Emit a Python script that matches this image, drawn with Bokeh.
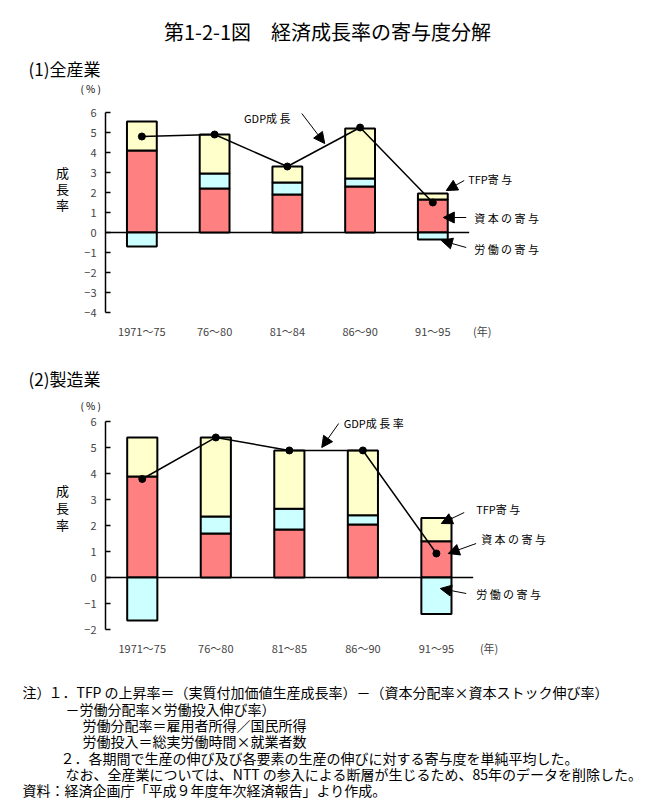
from bokeh.plotting import figure
from bokeh.models import Range1d, FixedTicker, Label, Arrow, NormalHead, Plot
from bokeh.layouts import column, row
from bokeh.embed import file_html
from bokeh.resources import INLINE
from bokeh.core.properties import value

FONT = "Noto Sans CJK JP"

# ---------------- data ----------------
periods_all = ["1971～75", "76～80", "81～84", "86～90", "91～95"]
capital_all = [4.1, 2.2, 1.9, 2.3, 1.65]
labor_all = [-0.7, 0.75, 0.6, 0.4, -0.35]
tfp_all = [1.45, 1.95, 0.8, 2.5, 0.3]
gdp_all = [4.8, 4.9, 3.3, 5.25, 1.5]

periods_mfg = ["1971～75", "76～80", "81～85", "86～90", "91～95"]
capital_mfg = [3.9, 1.7, 1.85, 2.05, 1.4]
labor_mfg = [-1.65, 0.65, 0.8, 0.35, -1.4]
tfp_mfg = [1.5, 3.05, 2.25, 2.5, 0.9]
gdp_mfg = [3.8, 5.4, 4.9, 4.9, 0.93]

year_unit = "(年)"

notes = [
    "注）",
    "１．TFP の上昇率＝（実質付加価値生産成長率）－（資本分配率×資本ストック伸び率）",
    "－労働分配率×労働投入伸び率）",
    "労働分配率＝雇用者所得／国民所得",
    "労働投入＝総実労働時間×就業者数",
    "２．各期間で生産の伸び及び各要素の生産の伸びに対する寄与度を単純平均した。",
    "なお、全産業については、NTT の参入による断層が生じるため、85年のデータを削除した。",
    "資料：経済企画庁「平成９年度年次経済報告」より作成。",
]

RED = "#FF8080"
CYAN = "#CCFFFF"
YELLOW = "#FFFFCC"

HAS_FRAME_ALIGN = "frame_align" in Plot.properties()


def no_align(p):
    if HAS_FRAME_ALIGN:
        p.frame_align = False
    return p


def pix_fig(x0, y0, w, h):
    """A blank figure whose data units are the page pixels (y down)."""
    p = figure(width=w, height=h, x_range=Range1d(x0, x0 + w), y_range=Range1d(y0 + h, y0),
               output_backend="svg", toolbar_location=None, x_axis_type=None,
               y_axis_type=None, min_border=0)
    p.outline_line_color = None
    return no_align(p)


def put_text(p, items):
    for t, x, y, size, align in items:
        p.text(x=[x], y=[y], text=[t], text_font=value(FONT), text_font_size=size,
               text_baseline="middle", text_align=align, text_color="black")


def make_chart(periods, cap, lab, tfp, gdp, page_top, height, frame_bottom,
               ymin, ypx, xpx, nen_x, texts, arrows):
    width = 585
    frame_left = 103
    frame_h = frame_bottom - page_top
    frame_w = width - 22
    p = figure(width=width, height=height,
               x_range=Range1d(-0.5, -0.5 + frame_w / xpx),
               y_range=Range1d(ymin, ymin + frame_h / ypx),
               output_backend="svg", toolbar_location=None,
               min_border_left=22, min_border_right=0, min_border_top=0,
               min_border_bottom=height - frame_h)
    no_align(p)
    p.outline_line_color = None
    p.grid.visible = False

    def px(x):
        return -0.5 + (x - frame_left) / xpx

    def py(y):
        return ymin + (frame_bottom - y) / ypx

    n = len(periods)
    xs = list(range(n))
    cap_bot = [0.0] * n
    cap_top = list(cap)
    lab_bot = [c if l >= 0 else 0.0 for c, l in zip(cap, lab)]
    lab_top = [c + l if l >= 0 else l for c, l in zip(cap, lab)]
    tfp_bot = [c + max(l, 0.0) for c, l in zip(cap, lab)]
    tfp_top = [b + t for b, t in zip(tfp_bot, tfp)]

    # zero line
    p.segment(x0=[-0.5], y0=[0], x1=[n - 0.5], y1=[0], line_color="black", line_width=1.5)

    for bot, top, col in ((cap_bot, cap_top, RED), (lab_bot, lab_top, CYAN),
                          (tfp_bot, tfp_top, YELLOW)):
        p.vbar(x=xs, width=0.41, bottom=bot, top=top, fill_color=col,
               line_color="black", line_width=2)

    p.line(xs, gdp, line_color="black", line_width=1.5)
    p.scatter(xs, gdp, size=7, color="black")

    # y axis
    p.yaxis.bounds = (ymin, 6)
    p.yaxis.ticker = FixedTicker(ticks=list(range(ymin, 7)))
    p.yaxis.axis_line_width = 1.5
    p.yaxis.major_tick_line_width = 1.5
    p.yaxis.major_tick_in = 5
    p.yaxis.major_tick_out = 0
    p.yaxis.minor_tick_line_color = None
    p.yaxis.minor_tick_out = 0
    p.yaxis.minor_tick_in = 0
    p.yaxis.major_label_standoff = 9
    p.yaxis.major_label_text_font = FONT
    p.yaxis.major_label_text_font_size = "11px"

    # x axis (category labels + the unit label)
    nen_pos = px(nen_x)
    p.xaxis.ticker = FixedTicker(ticks=xs + [nen_pos])
    overrides = {i: s for i, s in enumerate(periods)}
    overrides[nen_pos] = year_unit
    p.xaxis.major_label_overrides = overrides
    p.xaxis.axis_line_color = None
    p.xaxis.major_tick_line_color = None
    p.xaxis.minor_tick_line_color = None
    p.xaxis.major_tick_out = 0
    p.xaxis.major_tick_in = 0
    p.xaxis.minor_tick_out = 0
    p.xaxis.minor_tick_in = 0
    p.xaxis.major_label_standoff = 10
    p.xaxis.major_label_text_font = FONT
    p.xaxis.major_label_text_font_size = "11px"

    for t, x, y, size, align in texts:
        p.add_layout(Label(x=px(x), y=py(y), text=t, text_font=FONT,
                           text_font_size=size, text_baseline="middle",
                           text_align=align, text_color="black"))
    for x0, y0, x1, y1 in arrows:
        p.add_layout(Arrow(end=NormalHead(size=11, fill_color="black", line_color="black"),
                           x_start=px(x0), y_start=py(y0), x_end=px(x1), y_end=py(y1),
                           line_color="black", line_width=1))
    return p


# ---------------- section (1) ----------------
head_a = pix_fig(0, 0, 666, 98)
put_text(head_a, [
    ("第1-2-1図　経済成長率の寄与度分解", 327, 31, "20px", "center"),
    ("(1)全産業", 28, 68, "17px", "left"),
    ("( % )", 80, 88, "10px", "left"),
])
side_a = pix_fig(0, 98, 81, 252)
put_text(side_a, [("成", 62, 172, "13px", "center"),
                  ("長", 62, 188, "13px", "center"),
                  ("率", 62, 204, "13px", "center")])
chart_a = make_chart(periods_all, capital_all, labor_all, tfp_all, gdp_all,
                     page_top=98, height=252, frame_bottom=312, ymin=-4, ypx=20.0,
                     xpx=73.0, nen_x=481,
                     texts=[("GDP成 長", 242, 117, "11px", "left"),
                            ("TFP寄 与", 467, 178, "11px", "left"),
                            ("資 本 の 寄 与", 473, 217, "11px", "left"),
                            ("労 働 の 寄 与", 473, 248, "11px", "left")],
                     arrows=[(300, 113, 323, 143), (463, 180, 445, 190),
                             (465, 217, 442, 217), (465, 247, 440, 240)])

# ---------------- section (2) ----------------
head_b = pix_fig(0, 350, 666, 63)
put_text(head_b, [
    ("(2)製造業", 28, 378, "17px", "left"),
    ("( % )", 80, 405, "10px", "left"),
])
side_b = pix_fig(0, 413, 81, 265)
put_text(side_b, [("成", 62, 490, "13px", "center"),
                  ("長", 62, 507, "13px", "center"),
                  ("率", 62, 524, "13px", "center")])
chart_b = make_chart(periods_mfg, capital_mfg, labor_mfg, tfp_mfg, gdp_mfg,
                     page_top=413, height=265, frame_bottom=629, ymin=-2, ypx=25.95,
                     xpx=73.8, nen_x=488,
                     texts=[("GDP成 長 率", 342, 422, "11px", "left"),
                            ("TFP寄 与", 475, 508, "11px", "left"),
                            ("資 本 の 寄 与", 480, 538, "11px", "left"),
                            ("労 働 の 寄 与", 475, 593, "11px", "left")],
                     arrows=[(337, 423, 320, 447), (463, 512, 440, 523),
                             (475, 543, 447, 553), (465, 593, 439, 588)])

# ---------------- notes ----------------
foot = pix_fig(0, 678, 666, 130)
note_x = [22, 48, 65, 82, 82, 60, 65, 22]
note_y = [691, 691, 708, 724, 740, 757, 773, 789]
foot.text(x=note_x, y=note_y, text=notes, text_font=value(FONT), text_font_size="14px",
          text_baseline="middle", text_align="left", text_color="black")

layout = column(head_a, row(side_a, chart_a, spacing=0), head_b,
                row(side_b, chart_b, spacing=0), foot, spacing=0)
open("out.html", "w").write(file_html(layout, INLINE))
